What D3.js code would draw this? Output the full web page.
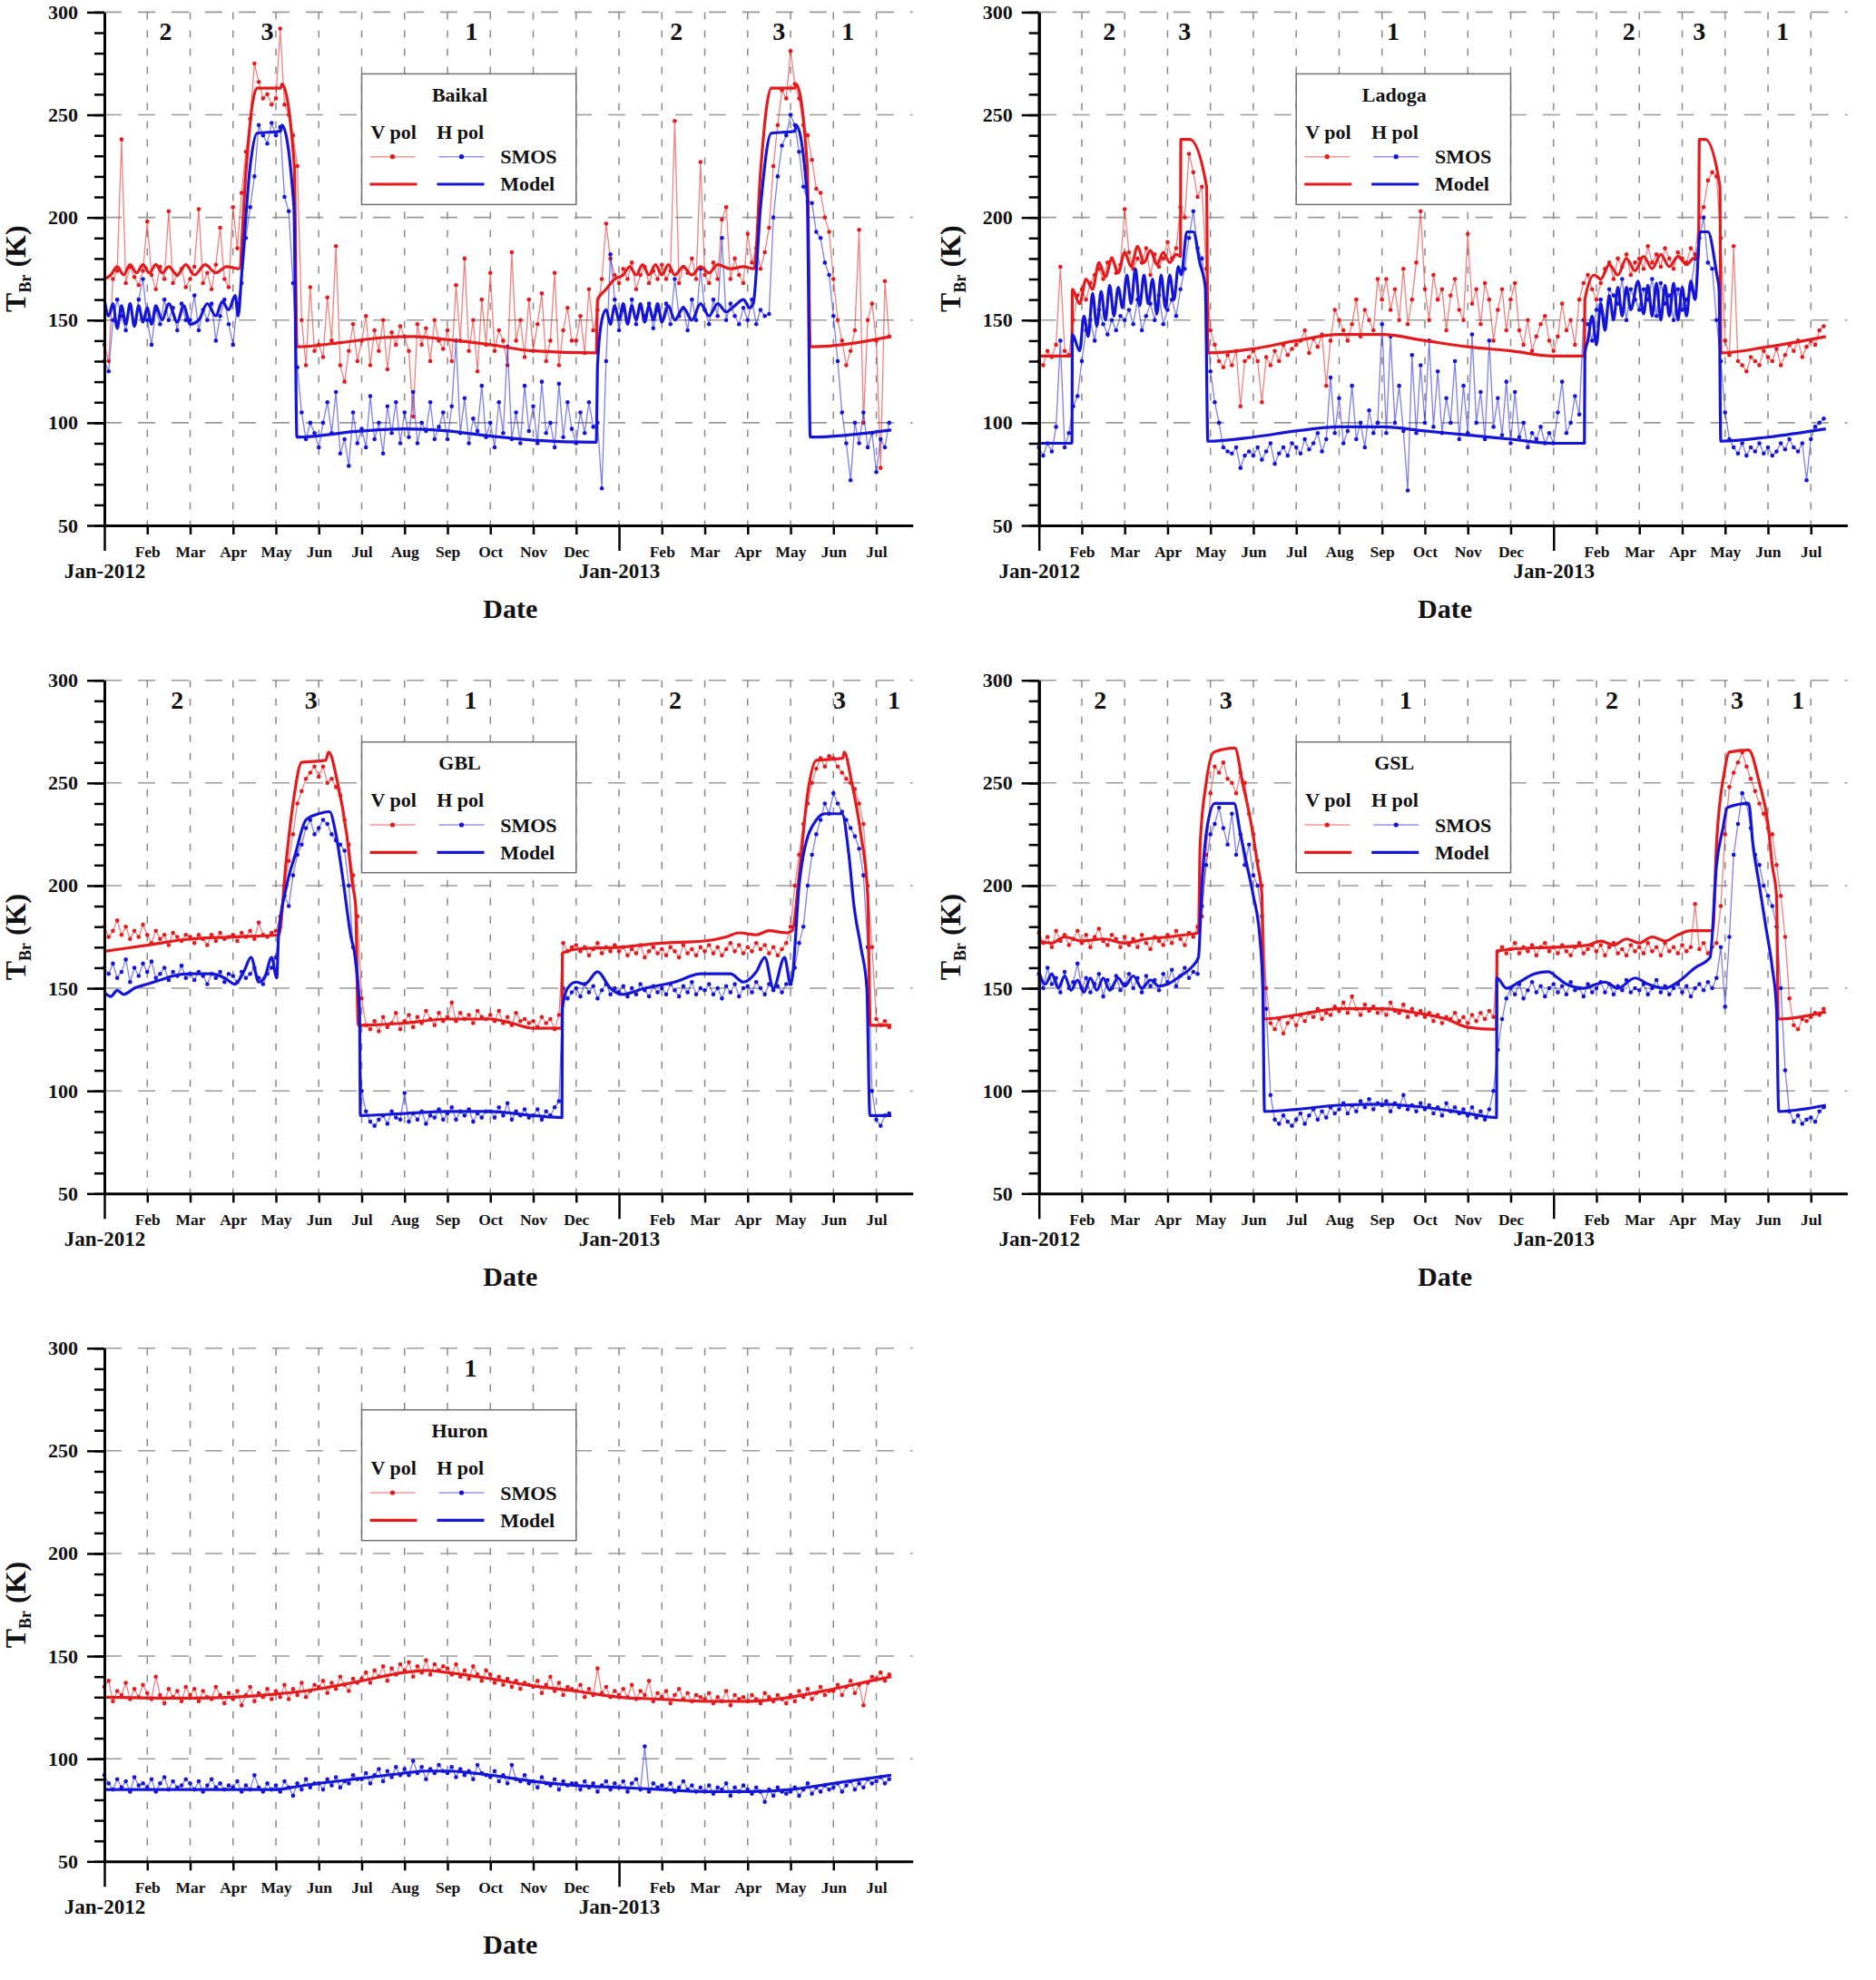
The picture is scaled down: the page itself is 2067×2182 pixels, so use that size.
<!DOCTYPE html>
<html><head><meta charset="utf-8">
<script src="https://cdn.jsdelivr.net/npm/d3@7/dist/d3.min.js"></script>
<style>body{margin:0;background:#fff} text{font-family:"Liberation Serif","Times New Roman",serif;font-weight:bold;fill:#111}</style>
</head><body><svg id="c" width="2067" height="2182"></svg>
<script>
// ---------- axis categories ----------
const monthLabels = ["Jan-2012","Feb","Mar","Apr","May","Jun","Jul","Aug","Sep","Oct","Nov","Dec","Jan-2013","Feb","Mar","Apr","May","Jun","Jul"];
const yTicks = [50,100,150,200,250,300];
const gridY = [100,150,200,250,300];
const xMax = 18.85;          // axis end, in months since Jan-2012
const STEP = 0.1;            // SMOS sampling interval, months

// ---------- SMOS series (K), one value every 0.1 month ----------
const baikalV = [138,130,170,174,238,168,176,171,167,174, 198,172,165,176,170,203,168,172,175,166, 170,176,204,168,173,165,177,195,170,166, 205,185,212,232,248,275,266,258,260,255, 258,292,255,250,240,225,150,128,166,135, 138,132,161,140,186,128,120,135,148,130, 140,152,128,145,135,150,126,144,138,147, 142,135,103,148,138,146,130,150,140,136, 145,130,167,140,180,135,150,125,160,138, 173,135,145,140,128,183,140,150,132,160, 135,148,163,130,140,173,128,145,156,140, 140,152,134,165,145,155,170,197,180,172, 168,175,170,178,165,172,176,168,174,170, 177,170,174,247,168,176,173,180,170,227, 172,168,178,170,199,205,170,180,172,168, 192,178,185,175,183,195,225,245,262,258, 281,265,258,245,240,228,214,212,200,193, 170,150,140,128,135,145,194,100,150,158, 140,78,169,142];
const baikalH = [130,125,150,160,152,145,157,148,160,170, 150,138,155,148,160,150,156,145,158,150, 150,162,145,155,150,158,140,152,160,148, 138,158,168,190,205,220,245,240,236,246, 240,244,210,203,168,127,105,92,100,95, 88,100,110,95,115,85,92,79,105,90, 97,88,113,92,100,85,108,95,110,90, 105,93,115,90,100,96,110,92,98,105, 92,108,140,95,112,90,102,96,118,93, 100,88,110,95,137,92,105,90,118,96, 108,90,120,95,100,88,119,93,110,97, 90,105,95,110,98,100,68,130,182,160, 145,155,150,160,148,156,152,158,146,155, 150,158,148,170,152,156,145,160,150,175, 155,148,160,152,190,150,158,152,148,156, 150,160,148,155,152,153,200,220,235,240, 250,245,232,215,208,207,193,190,178,172, 152,130,105,90,72,100,90,105,88,95, 76,92,88,100];
const ladogaV = [130,128,135,132,138,176,135,133,150,162, 165,160,168,172,175,170,178,180,173,177, 204,183,175,180,178,185,172,182,176,180, 188,180,185,205,200,231,222,210,215,175, 145,138,130,127,133,128,135,108,130,132, 135,130,110,132,128,135,130,138,133,136, 138,140,145,134,141,137,143,118,140,155, 150,145,140,148,160,142,155,150,145,170, 160,170,155,165,150,175,148,160,178,203, 165,150,172,160,165,145,162,170,155,150, 192,158,165,148,168,160,140,155,165,145, 160,168,145,138,150,135,142,148,152,140, 135,142,158,145,150,138,160,168,172,165, 160,168,175,178,170,180,176,182,172,178, 180,175,186,178,182,176,185,180,175,183, 180,178,185,182,200,205,218,222,220,190, 140,133,186,130,128,125,132,130,128,135, 132,130,136,128,133,138,135,140,132,137, 140,138,145,147];
const ladogaH = [88,84,90,86,98,140,88,95,108,113, 130,145,150,140,155,148,143,150,145,152, 150,155,148,160,145,152,158,150,162,148, 155,160,152,165,175,190,203,185,180,160, 125,110,100,88,86,85,88,78,84,86, 84,88,82,86,90,80,85,88,84,90, 88,85,92,87,90,95,86,92,122,95, 112,90,96,118,92,100,88,106,95,100, 148,95,142,100,118,96,67,133,95,128, 100,140,98,125,95,112,100,130,92,118, 95,143,100,115,92,140,98,112,94,120, 90,115,93,100,88,95,92,98,90,95, 90,105,120,95,100,113,104,150,148,140, 155,160,150,165,162,158,170,150,165,160, 155,165,160,170,152,168,158,162,150,165, 155,160,165,180,190,200,178,175,150,130, 105,92,88,85,90,84,88,86,90,85, 88,84,86,90,87,92,88,86,90,72, 92,98,100,102];
const gblV = [180,175,178,183,176,180,174,178,175,181, 176,172,178,174,176,171,177,175,173,176, 175,172,176,174,171,176,173,177,174,175, 176,173,177,175,178,174,182,176,175,177, 178,185,200,212,225,240,246,252,255,258, 253,258,250,252,248,244,232,220,205,185, 145,132,130,134,129,136,131,133,138,130, 134,137,131,136,133,139,135,132,138,134, 136,143,134,138,135,137,133,139,136,135, 137,134,139,133,136,132,138,134,135,133, 134,131,136,133,135,130,137,172,168,170, 171,168,170,166,169,172,167,170,168,171, 168,170,166,169,167,171,165,168,170,167, 169,166,170,168,165,171,167,169,166,170, 168,171,167,170,166,169,172,168,171,167, 170,168,172,169,171,167,170,166,169,172, 180,200,215,230,240,250,257,262,258,263, 262,258,255,252,250,247,240,230,200,170, 135,132,134,131];
const gblH = [160,157,162,155,158,164,153,160,156,162, 158,163,155,157,160,154,158,156,161,155, 157,154,158,156,152,157,155,158,153,157, 156,153,158,155,157,160,155,152,157,160, 165,180,195,190,205,215,220,228,232,225, 228,232,230,225,222,220,217,200,170,150, 100,90,85,83,86,88,84,90,87,86, 99,85,89,86,90,84,88,87,91,86, 89,92,86,90,88,91,85,89,87,90, 90,87,92,88,94,86,90,88,91,87, 88,91,86,90,88,92,95,150,145,148, 150,146,152,148,151,145,149,152,147,150, 148,151,146,150,147,152,149,146,151,148, 150,147,152,149,146,151,148,153,147,150, 149,152,147,150,145,151,148,152,146,150, 151,148,153,150,147,152,149,151,148,152, 152,160,172,180,200,215,225,232,240,235, 245,240,236,232,228,224,218,205,170,100, 86,83,88,89];
const gslV = [177,172,175,170,178,173,176,171,174,178, 172,176,170,175,179,173,171,176,174,170, 175,171,174,170,176,172,169,175,173,171, 176,172,178,174,171,177,175,180,185,215, 245,258,255,260,252,250,245,255,250,235, 225,212,200,150,133,130,135,128,133,136, 132,137,134,138,136,140,135,138,137,141, 139,143,138,146,140,137,142,139,141,138, 140,137,143,139,138,142,136,140,137,139, 136,138,134,137,133,136,135,138,134,136, 133,137,134,138,135,139,136,168,170,167, 169,172,167,170,168,171,166,170,172,168, 170,167,171,168,166,170,172,167,169,171, 168,171,166,170,172,167,169,166,171,168, 170,167,172,168,170,166,172,168,170,167, 171,168,170,191,169,172,167,170,172,190, 225,248,255,260,265,258,252,246,240,235, 228,225,210,195,175,145,132,130,135,134, 136,138,137,140];
const gslH = [157,150,160,152,155,148,158,150,153,162, 150,155,148,152,157,146,154,150,156,149, 152,157,150,155,148,156,151,154,149,157, 153,159,151,156,160,155,158,157,190,210, 225,230,238,228,220,235,215,225,210,220, 205,200,185,140,98,86,84,88,85,83, 86,89,84,88,91,86,90,87,92,89, 91,94,89,93,90,95,92,96,91,94, 93,95,90,94,92,98,91,93,90,94, 91,93,89,92,88,94,90,92,89,91, 88,92,87,90,86,91,100,120,135,145, 150,147,152,145,149,153,148,151,146,150, 152,148,151,147,153,149,150,146,152,148, 150,153,148,152,147,151,149,154,148,150, 149,152,147,150,154,148,151,147,150,152, 148,151,146,150,152,149,153,150,155,170, 141,175,215,230,245,240,228,215,210,200, 195,190,180,150,110,90,85,88,84,86, 87,85,90,92];
const huronV = [135,138,128,133,131,137,129,134,130,136, 132,129,140,131,127,134,130,133,128,135, 131,134,128,133,130,129,135,131,127,132, 129,133,126,131,135,128,132,130,134,129, 133,130,136,129,134,131,137,130,133,136, 135,138,132,137,134,140,136,133,139,137, 139,142,137,143,140,145,138,144,141,146, 143,147,140,145,142,148,141,146,143,145, 144,141,146,140,143,139,145,141,138,143, 141,137,140,136,139,135,138,134,137,136, 135,138,132,136,140,133,137,131,135,134, 133,136,130,134,131,144,132,135,130,133, 131,134,130,136,129,133,131,138,128,132, 130,133,127,131,134,129,132,128,131,130, 129,132,127,130,128,133,126,131,129,130, 128,131,129,127,132,130,128,131,129,127, 131,128,133,130,134,129,132,135,131,133, 133,136,131,135,138,132,136,126,137,140, 139,142,138,141];
const huronH = [92,88,85,90,86,89,84,91,87,88, 86,90,84,88,91,85,89,86,87,90, 88,85,89,84,87,90,86,88,85,87, 86,89,84,87,85,92,86,84,88,85, 87,84,89,86,82,88,85,90,86,88, 88,85,90,87,91,86,89,88,92,90, 90,93,88,92,95,89,94,91,96,92, 95,92,99,93,96,90,95,93,97,94, 93,96,91,95,92,94,90,97,93,92, 91,94,89,92,88,97,90,89,92,88, 89,86,91,88,87,90,85,89,87,88, 88,85,89,86,88,84,87,89,85,88, 86,89,84,88,90,85,106,84,88,86, 87,85,88,84,86,89,85,87,84,86, 84,87,83,86,85,88,82,86,84,87, 85,83,86,84,79,85,82,86,84,83, 84,86,82,85,88,83,86,84,87,85, 86,88,84,87,89,85,88,86,90,88, 89,91,88,90];

// ---------- Model series: [month, K] ----------
const baikalModelV = [[0,170],[0.15,172],[0.3,176],[0.45,172],[0.6,177],[0.75,173],[0.9,177],[1.05,173],[1.2,177],[1.35,173],[1.5,176],[1.7,172],[1.9,177],[2.1,172],[2.35,177],[2.6,173],[2.85,176],[3.14,175],[3.3,222],[3.45,255],[3.56,263],[4.11,263],[4.14,265],[4.43,225],[4.49,137],[5.5,139],[6.5,141.5],[7.2,142],[8,140.5],[9,138],[10,135],[11.47,134],[11.5,160],[11.7,165],[11.9,170],[12.1,172],[12.25,176],[12.4,172],[12.55,177],[12.7,172],[12.85,177],[13,172],[13.15,177],[13.3,172],[13.5,176],[13.7,172],[13.9,176],[14.1,173],[14.3,177],[14.6,175],[14.9,176],[15.15,175],[15.3,222],[15.45,255],[15.55,263],[16.1,263],[16.13,265],[16.39,225],[16.46,137],[18.35,142]];
const baikalModelH = [[0,160],[0.1,152],[0.2,158],[0.3,146],[0.4,157],[0.5,148],[0.6,158],[0.7,147],[0.8,157],[0.9,149],[1.0,156],[1.1,148],[1.2,157],[1.35,150],[1.5,158],[1.7,149],[1.85,157],[2.0,148],[2.2,150],[2.4,158],[2.6,152],[2.75,159],[2.9,155],[3.05,162],[3.12,152],[3.2,172],[3.4,225],[3.56,241],[4.11,242],[4.14,245],[4.42,205],[4.49,93],[6,96],[7,97],[8,96],[9,93.5],[10,91.5],[11.47,90.5],[11.5,128],[11.6,150],[11.7,155],[11.8,148],[11.9,157],[12.0,150],[12.1,158],[12.2,148],[12.3,157],[12.4,150],[12.5,158],[12.6,149],[12.7,157],[12.8,150],[12.9,158],[13.0,149],[13.15,157],[13.3,150],[13.5,156],[13.7,150],[13.9,158],[14.1,152],[14.3,158],[14.5,154],[14.7,157],[14.9,160],[15.05,156],[15.13,158],[15.3,205],[15.55,241],[16.1,242],[16.13,245],[16.39,210],[16.46,93],[18.35,96.5]];
const ladogaModelV = [[0,132.5],[0.77,132.5],[0.78,165],[0.95,158],[1.1,170],[1.25,165],[1.4,178],[1.55,171],[1.7,180],[1.85,173],[2.0,183],[2.15,176],[2.3,186],[2.45,178],[2.6,184],[2.75,177],[2.9,183],[3.05,178],[3.2,182],[3.3,181],[3.31,238],[3.52,238],[3.91,215],[3.94,134],[5,136],[6,140],[7,143],[8,143],[9,140],[10,137],[11,135],[12,132.5],[12.72,132.5],[12.73,160],[12.95,172],[13.1,170],[13.3,177],[13.5,172],[13.7,180],[13.9,174],[14.1,181],[14.3,175],[14.5,182],[14.7,176],[14.9,181],[15.1,177],[15.25,180],[15.38,181],[15.4,238],[15.54,238],[15.88,215],[15.9,134],[17,137],[18.35,142]];
const ladogaModelH = [[0,90],[0.77,90],[0.78,143],[0.95,135],[1.05,152],[1.15,142],[1.25,163],[1.35,147],[1.45,164],[1.55,150],[1.65,167],[1.75,152],[1.85,166],[1.95,156],[2.05,172],[2.15,158],[2.25,175],[2.35,157],[2.45,172],[2.55,158],[2.65,170],[2.75,153],[2.85,172],[2.95,156],[3.05,172],[3.15,160],[3.25,176],[3.32,172],[3.45,193],[3.6,193],[3.75,178],[3.88,166],[3.94,91],[5,93],[6,96],[7,98],[8,98],[9,96],[10,94],[11,92],[12,90],[12.72,90],[12.73,134],[12.8,140],[12.9,152],[13.0,138],[13.1,158],[13.2,145],[13.3,162],[13.4,150],[13.5,166],[13.6,152],[13.7,166],[13.8,155],[13.97,169],[14.1,153],[14.2,167],[14.3,152],[14.4,168],[14.5,150],[14.6,167],[14.7,152],[14.8,168],[14.9,150],[15.0,166],[15.1,152],[15.2,169],[15.3,160],[15.42,193],[15.6,193],[15.8,173],[15.86,165],[15.9,91],[17,93],[18.35,97]];
const gblModelV = [[0,168],[1,171],[2,174],[3,175],[4.07,176],[4.23,210],[4.4,240],[4.6,260],[5.16,261],[5.23,265],[5.44,250],[5.65,225],[5.79,200],[5.86,190],[5.92,132],[7,133],[8,135],[9,135],[9.5,133],[10,130.5],[10.67,130.5],[10.68,167],[11,169],[12,170],[13,172],[14,173],[14.5,175],[14.8,177],[15.2,176],[15.5,178],[15.9,177],[16.04,178],[16.2,205],[16.4,245],[16.6,261],[17.22,262],[17.25,265],[17.43,250],[17.64,225],[17.8,195],[17.86,132],[18.35,132]];
const gblModelH = [[0,148],[0.15,146],[0.3,149],[0.45,147],[0.7,150],[1.0,152],[1.3,154],[1.6,156],[2.0,157],[2.5,157],[2.8,155],[3.05,152],[3.25,158],[3.42,165],[3.6,153],[3.75,156],[3.9,165],[4.02,155],[4.06,175],[4.25,200],[4.45,215],[4.7,232],[5.0,235],[5.25,236],[5.4,225],[5.55,205],[5.75,175],[5.85,165],[5.95,140],[5.97,88],[7,89],[8,90],[9,90],[10,88],[10.67,87],[10.68,140],[10.8,150],[11.0,153],[11.2,152],[11.5,158],[11.8,150],[12.07,147],[12.6,150],[13.3,153],[13.9,157],[14.6,157],[14.9,153],[15.2,158],[15.4,165],[15.6,150],[15.86,165],[16.0,152],[16.04,155],[16.2,200],[16.3,215],[16.6,232],[16.8,235],[17.2,235],[17.36,215],[17.48,190],[17.64,170],[17.78,150],[17.85,88],[18.35,88]];
const gslModelV = [[0,173],[0.3,172],[0.6,175],[1,173],[1.5,174],[2,172],[2.5,174],[3,175],[3.4,176],[3.72,177],[3.76,220],[3.9,250],[4.08,265],[4.57,267],[4.75,250],[4.95,230],[5.1,210],[5.2,195],[5.24,135],[6,137],[7,140],[8,140],[8.8,138],[9.5,135],[10,131],[10.67,130],[10.68,168],[11,169],[12,170],[12.8,171],[13.1,173],[13.4,171],[13.7,174],[14.0,172],[14.3,175],[14.6,173],[14.9,176],[15.2,178],[15.71,178],[15.8,220],[15.98,255],[16.1,265],[16.55,266],[16.8,250],[17.0,230],[17.1,210],[17.2,195],[17.24,135],[18.35,138.5]];
const gslModelH = [[0,158],[0.15,152],[0.3,157],[0.45,150],[0.6,156],[0.75,149],[0.9,154],[1.05,148],[1.2,155],[1.35,149],[1.5,155],[1.65,149],[1.85,155],[2.0,151],[2.2,156],[2.4,150],[2.6,154],[2.8,151],[3.0,152],[3.3,156],[3.55,160],[3.72,165],[3.8,200],[3.92,228],[4.1,240],[4.55,240],[4.7,225],[4.85,210],[5.0,195],[5.15,175],[5.22,150],[5.26,90],[6,91],[7,93],[8,93.5],[9,92],[10,89],[10.67,87],[10.68,155],[10.9,150],[11.2,153],[11.55,157],[11.88,158],[12.1,155],[12.3,152],[12.7,150],[13.0,152],[13.2,153],[13.5,150],[13.9,155],[14.2,152],[14.6,150],[14.9,153],[15.3,160],[15.65,165],[15.8,210],[15.95,228],[16.05,238],[16.55,240],[16.65,220],[16.8,200],[16.95,180],[17.1,160],[17.2,140],[17.25,90],[18.35,93]];
const huronModelV = [[0,130],[2,129.5],[3,130],[4,131.5],[5,134],[6,138],[7,142],[7.5,143],[8,142],[9,139],[10,135.5],[11,133],[12,130],[13,129],[14,128],[15,128],[16,130],[17,134],[18,138.5],[18.35,140]];
const huronModelH = [[0,85],[4,85],[4.5,86.5],[5,88],[6,90.5],[7,93],[7.5,94],[8,94],[9,92],[10,89],[11,87],[12,86],[13,85],[14,84],[15,84],[16,85],[17,88],[18,91],[18.35,92]];

// ---------- ice-regime labels: [month, label] ----------
const baikalZones = [[1.43,"2"],[3.80,"3"],[8.56,"1"],[13.34,"2"],[15.73,"3"],[17.34,"1"]];
const ladogaZones = [[1.64,"2"],[3.40,"3"],[8.26,"1"],[13.76,"2"],[15.40,"3"],[17.34,"1"]];
const gblZones    = [[1.70,"2"],[4.82,"3"],[8.54,"1"],[13.31,"2"],[17.14,"3"],[18.41,"1"]];
const gslZones    = [[1.43,"2"],[4.36,"3"],[8.55,"1"],[13.36,"2"],[16.28,"3"],[17.70,"1"]];
const huronZones  = [[8.54,"1"]];

const lakes = ["Baikal","Ladoga","GBL","GSL","Huron"];
const smosV = [baikalV, ladogaV, gblV, gslV, huronV];
const smosH = [baikalH, ladogaH, gblH, gslH, huronH];
const modelV = [baikalModelV, ladogaModelV, gblModelV, gslModelV, huronModelV];
const modelH = [baikalModelH, ladogaModelH, gblModelH, gslModelH, huronModelH];
const zones = [baikalZones, ladogaZones, gblZones, gslZones, huronZones];

// ---------- layout ----------
const RED = "#e41a1c", BLUE = "#1515d8";
const PW = 890.7, PH = 565.6;
const colX = [115, 1144.7], rowY = [13.4, 749.7, 1485.7];
const grid = [[0,0],[1,0],[0,1],[1,1],[0,2]];

const svg = d3.select("#c");
svg.append("rect").attr("width",2067).attr("height",2182).attr("fill","#fff");

const x = d3.scaleLinear().domain([0, xMax]).range([0, PW]);
const y = d3.scaleLinear().domain([50, 300]).range([PH, 0]);
const toPts = arr => arr.map((v,i) => [i*STEP, v]);
const lineS = d3.line().x(d => x(d[0])).y(d => y(d[1]));
const lineM = d3.line().x(d => x(d[0])).y(d => y(d[1])).curve(d3.curveMonotoneX);

lakes.forEach((name, k) => {
  const [c, r] = grid[k];
  const g = svg.append("g").attr("transform", `translate(${colX[c]},${rowY[r]})`);

  // grid lines
  g.append("g").selectAll("line").data(gridY).join("line")
    .attr("x1",0).attr("x2",PW).attr("y1",d=>y(d)).attr("y2",d=>y(d))
    .attr("stroke","#9a9a9a").attr("stroke-width",1.6).attr("stroke-dasharray","19,18");
  g.append("g").selectAll("line").data(d3.range(1,19)).join("line")
    .attr("x1",d=>x(d)).attr("x2",d=>x(d)).attr("y1",0).attr("y2",PH)
    .attr("stroke","#8a8a8a").attr("stroke-width",1.5).attr("stroke-dasharray","8,12");

  // SMOS
  [[smosV[k], RED],[smosH[k], BLUE]].forEach(([arr, col]) => {
    const pts = toPts(arr);
    g.append("path").datum(pts).attr("d", lineS).attr("fill","none")
      .attr("stroke", col).attr("stroke-opacity",0.55).attr("stroke-width",1.3);
    g.append("g").selectAll("circle").data(pts).join("circle")
      .attr("cx",d=>x(d[0])).attr("cy",d=>y(d[1])).attr("r",2.3).attr("fill",col);
  });
  // Models
  [[modelV[k], RED],[modelH[k], BLUE]].forEach(([arr, col]) => {
    g.append("path").datum(arr).attr("d", lineM).attr("fill","none")
      .attr("stroke", col).attr("stroke-width",3.2).attr("stroke-linejoin","round");
  });

  // axes
  const yMinor = d3.axisLeft(y).tickValues(d3.range(50,301,10)).tickSize(11).tickSizeOuter(0).tickFormat("");
  const yMajor = d3.axisLeft(y).tickValues(yTicks).tickSize(19).tickSizeOuter(0).tickPadding(10);
  const gm = g.append("g").call(yMinor);
  const gM = g.append("g").call(yMajor);
  [gm, gM].forEach(a => {
    a.select(".domain").attr("stroke","#000").attr("stroke-width",3);
    a.selectAll(".tick line").attr("stroke","#000").attr("stroke-width",2.5);
  });
  gM.selectAll(".tick text").attr("fill","#111").style("font-size","22px")
    .style("font-family","'Liberation Serif',serif").style("font-weight","bold");

  const xAx = d3.axisBottom(x).tickValues(d3.range(0,19)).tickSize(10).tickSizeOuter(0).tickFormat(i => monthLabels[i]);
  const gx = g.append("g").attr("transform",`translate(0,${PH})`).call(xAx);
  gx.select(".domain").attr("stroke","#000").attr("stroke-width",3);
  gx.selectAll(".tick line").attr("stroke","#000").attr("stroke-width",2.5)
    .attr("y2", i => monthLabels[i].startsWith("Jan") ? 28 : 10);
  gx.selectAll(".tick text").attr("fill","#111").attr("dy",null)
    .attr("y", i => monthLabels[i].startsWith("Jan") ? 58 : 35)
    .style("font-size", i => monthLabels[i].startsWith("Jan") ? "23px" : "17.5px")
    .style("font-family","'Liberation Serif',serif").style("font-weight","bold");

  // regime labels
  g.append("g").selectAll("text").data(zones[k]).join("text")
    .attr("x", d => x(d[0])).attr("y", 31).attr("text-anchor","middle")
    .style("font-size","28px").text(d => d[1]);

  // axis titles
  const yt = g.append("text").attr("transform",`translate(-87,${PH/2}) rotate(-90)`)
    .attr("text-anchor","middle").style("font-size","32px");
  yt.append("tspan").text("T");
  yt.append("tspan").attr("dy",6).style("font-size","18px").text("Br");
  yt.append("tspan").attr("dy",-6).text(" (K)");
  g.append("text").attr("x", PW/2 + 2).attr("y", PH + 102).attr("text-anchor","middle")
    .style("font-size","30px").text("Date");

  // legend
  const L = x(6), LW = x(11) - x(6);
  const lg = g.append("g").attr("transform",`translate(${L},68)`);
  lg.append("rect").attr("width",LW).attr("height",144).attr("fill","#fff")
    .attr("stroke","#707070").attr("stroke-width",1.5);
  lg.append("text").attr("x",108).attr("y",30.5).attr("text-anchor","middle").style("font-size","22px").text(name);
  lg.append("text").attr("x",10).attr("y",71.3).style("font-size","22px").text("V pol");
  lg.append("text").attr("x",82.7).attr("y",71.3).style("font-size","22px").text("H pol");
  [[9,59,34,RED],[85,135,110,BLUE]].forEach(([a,b,m,col]) => {
    lg.append("line").attr("x1",a).attr("x2",b).attr("y1",91.3).attr("y2",91.3)
      .attr("stroke",col).attr("stroke-opacity",0.45).attr("stroke-width",1.5);
    lg.append("circle").attr("cx",m).attr("cy",91.3).attr("r",2.6).attr("fill",col);
  });
  [[9,61,RED],[83,135,BLUE]].forEach(([a,b,col]) => {
    lg.append("line").attr("x1",a).attr("x2",b).attr("y1",121.6).attr("y2",121.6)
      .attr("stroke",col).attr("stroke-width",3.2);
  });
  lg.append("text").attr("x",152.7).attr("y",99).style("font-size","22px").text("SMOS");
  lg.append("text").attr("x",152.7).attr("y",129).style("font-size","22px").text("Model");
});
</script></body></html>
